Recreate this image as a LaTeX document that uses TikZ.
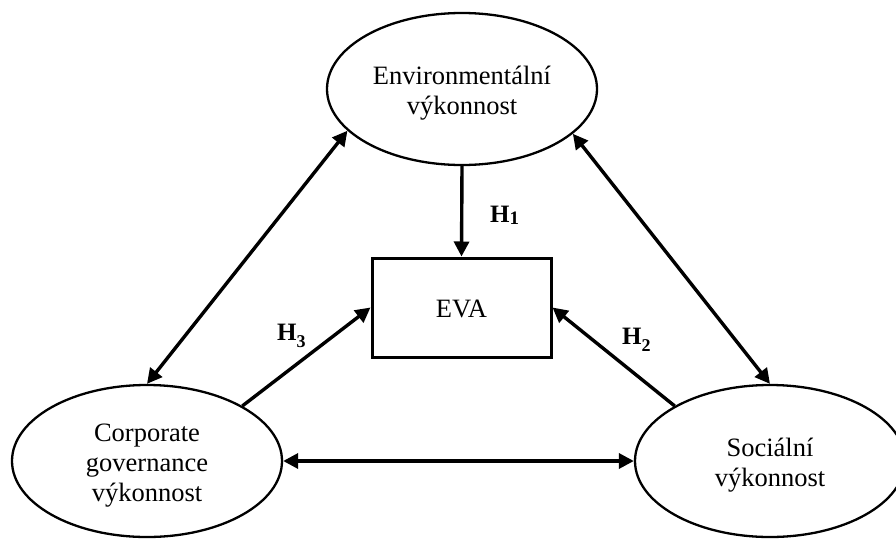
\documentclass[tikz,border=0pt]{standalone}
\usepackage{fontspec}
\setmainfont{Liberation Serif}
\usetikzlibrary{shapes.geometric,arrows.meta}

% strut that sets the first text line a little lower inside its shape
\newcommand{\firstline}{\rule{0pt}{26pt}}

\tikzset{
  construct/.style={ellipse, draw, line width=2.3pt, minimum width=270pt,
    minimum height=152pt, inner sep=0pt, align=center,
    font=\fontsize{26.5}{30}\selectfont},
  outcome/.style={rectangle, draw, line width=3pt, minimum width=179pt,
    minimum height=99pt, inner sep=0pt, font=\fontsize{26.5}{30}\selectfont},
  link/.style={line width=3.4pt, -{Triangle[length=15pt,width=15pt]}},
  bilink/.style={line width=3.4pt, {Triangle[length=15pt,width=15pt]}-{Triangle[length=15pt,width=15pt]}},
  hyp/.style={anchor=base west, inner sep=0pt, font=\fontsize{25}{25}\selectfont\bfseries}
}

\begin{document}
\begin{tikzpicture}[x=1pt, y=-1pt]
  \useasboundingbox (0,0) rectangle (896,538);
  \clip (0,0) rectangle (896,538);

  % the three ESG constructs and the outcome
  \node[construct] (env) at (462,89) {\firstline Environmentální\\výkonnost};
  \node[construct] (cg)  at (147,461) {\firstline Corporate\\governance\\výkonnost};
  \node[construct] (soc) at (770,461) {\firstline Sociální\\výkonnost};
  \node[outcome]   (eva) at (461.5,307.5) {\rule{0pt}{21pt}EVA};

  % hypothesised effects on EVA
  \draw[link] (env.south) -- (eva.north);
  \draw[link] (cg.30) -- (eva.west);
  \draw[link] (soc.150) -- (eva.east);

  % mutual relations between the constructs
  \draw[bilink] (cg.north) -- (env.200);
  \draw[bilink] (soc.north) -- (env.-22);
  \draw[bilink] (cg.east) -- (soc.west);

  % hypothesis labels
  \node[hyp] (h1) at (490,222) {H\raisebox{-2pt}{\fontsize{19}{19}\selectfont 1}};
  \node[hyp] (h3) at (277,340) {H\raisebox{-7.5pt}{\fontsize{18}{18}\selectfont 3}};
  \node[hyp] (h2) at (622,344) {H\raisebox{-7.5pt}{\fontsize{18}{18}\selectfont 2}};
\end{tikzpicture}
\end{document}
